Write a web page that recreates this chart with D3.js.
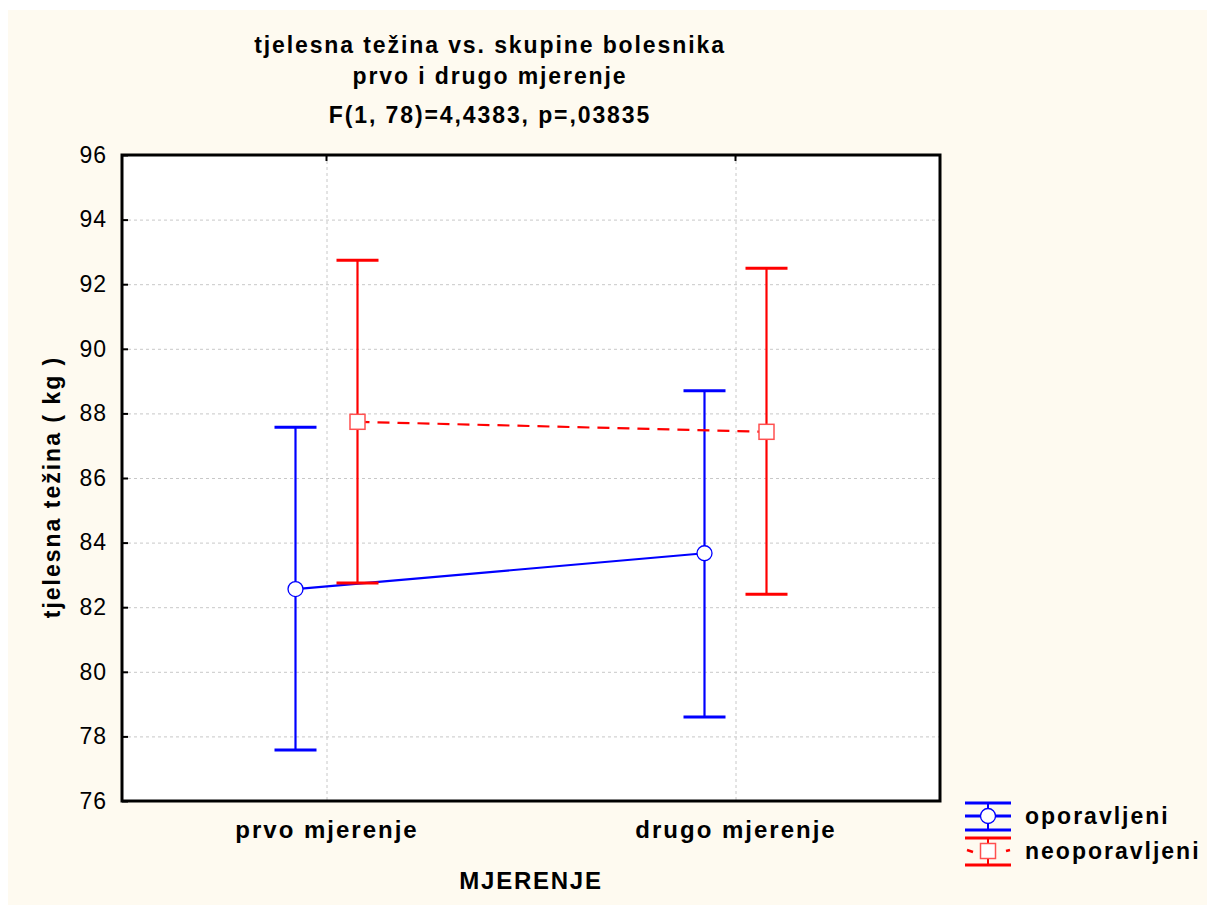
<!DOCTYPE html>
<html>
<head>
<meta charset="utf-8">
<script src="https://cdn.jsdelivr.net/npm/d3@7"></script>
<style>
  html, body { margin: 0; padding: 0; background: #ffffff; }
  svg { display: block; }
  text { font-family: "Liberation Sans", Arial, sans-serif; fill: #000; }
</style>
</head>
<body>
<svg id="chart" width="1207" height="905"></svg>
<script>
// ---- data ----
const categories = ["prvo mjerenje", "drugo mjerenje"];
const seriesNames = ["oporavljeni", "neoporavljeni"];
const oporavljeniMean = [82.56, 83.67];
const oporavljeniLow  = [77.58, 78.60];
const oporavljeniHigh = [87.57, 88.70];
const neoporavljeniMean = [87.74, 87.43];
const neoporavljeniLow  = [82.75, 82.40];
const neoporavljeniHigh = [92.74, 92.49];
const yTicks = [76, 78, 80, 82, 84, 86, 88, 90, 92, 94, 96];
const titleLines = ["tjelesna težina vs. skupine bolesnika", "prvo i drugo mjerenje", "F(1, 78)=4,4383, p=,03835"];
const xAxisTitle = "MJERENJE";
const yAxisTitle = "tjelesna težina ( kg )";

const series = [
  { name: seriesNames[0], mean: oporavljeniMean, low: oporavljeniLow, high: oporavljeniHigh, color: "#0000ff", markerStroke: "#0000ff", marker: "circle", dash: null },
  { name: seriesNames[1], mean: neoporavljeniMean, low: neoporavljeniLow, high: neoporavljeniHigh, color: "#ff0000", markerStroke: "#ff5050", marker: "square", dash: "12,8" }
];

const svg = d3.select("#chart");
// cream background panel
svg.append("rect").attr("x", 8).attr("y", 10).attr("width", 1199).attr("height", 895).attr("fill", "#fefaf0");

const L = 122, R = 940, T = 155, B = 801;
const x = d3.scalePoint().domain(categories).range([L, R]).padding(0.5);
const off = d3.scalePoint().domain(seriesNames).range([-31, 31]);
const y = d3.scaleLinear().domain([76, 96]).range([B, T]);

// plot area
svg.append("rect").attr("x", L).attr("y", T).attr("width", R - L).attr("height", B - T).attr("fill", "#ffffff");

// grid
const grid = svg.append("g").attr("stroke", "#c8c8c8").attr("stroke-width", 1).attr("stroke-dasharray", "3,3");
grid.selectAll("line.h").data(yTicks.filter(t => t > 76 && t < 96)).join("line")
  .attr("x1", L).attr("x2", R).attr("y1", d => y(d) + 0.5).attr("y2", d => y(d) + 0.5);
grid.selectAll("line.v").data(categories).join("line")
  .attr("y1", T).attr("y2", B).attr("x1", d => x(d) + 0.5).attr("x2", d => x(d) + 0.5);

// axes
const yAxis = d3.axisLeft(y).tickValues(yTicks).tickSize(-6).tickPadding(15).tickFormat(d3.format("d"));
const gy = svg.append("g").attr("transform", `translate(${L},0)`).call(yAxis);
gy.select(".domain").remove();
gy.selectAll(".tick line").attr("stroke", "#000").attr("stroke-width", 2);
gy.selectAll(".tick text").attr("font-size", 23).attr("letter-spacing", "1px")
  .attr("font-family", "Liberation Sans, Arial, sans-serif").attr("fill", "#000");

const xAxis = d3.axisBottom(x).tickSize(0);
const gx = svg.append("g").attr("transform", `translate(0,${B})`).call(xAxis);
gx.select(".domain").remove();
gx.selectAll(".tick text").attr("font-size", 24).attr("font-weight", "bold").attr("letter-spacing", "2px")
  .attr("y", 37).attr("dy", null)
  .attr("font-family", "Liberation Sans, Arial, sans-serif").attr("fill", "#000");
// top ticks at categories
svg.append("g").selectAll("line").data(categories).join("line")
  .attr("x1", d => x(d)).attr("x2", d => x(d)).attr("y1", T).attr("y2", T + 6)
  .attr("stroke", "#000").attr("stroke-width", 2);

// border
svg.append("rect").attr("x", L).attr("y", T).attr("width", R - L).attr("height", B - T)
  .attr("fill", "none").attr("stroke", "#000").attr("stroke-width", 3);

// series
const capW = 21;
series.forEach(s => {
  const g = svg.append("g");
  const px = (c) => x(c) + off(s.name);
  const line = d3.line().x((d, i) => px(categories[i])).y(d => y(d));
  g.append("path").attr("d", line(s.mean)).attr("fill", "none").attr("stroke", s.color)
    .attr("stroke-width", 2.2).attr("stroke-dasharray", s.dash);
  categories.forEach((c, i) => {
    const cx = px(c);
    g.append("line").attr("x1", cx).attr("x2", cx).attr("y1", y(s.low[i])).attr("y2", y(s.high[i]))
      .attr("stroke", s.color).attr("stroke-width", 2.2);
    [s.low[i], s.high[i]].forEach(v => {
      g.append("line").attr("x1", cx - capW).attr("x2", cx + capW).attr("y1", y(v)).attr("y2", y(v))
        .attr("stroke", s.color).attr("stroke-width", 3);
    });
  });
  categories.forEach((c, i) => {
    const cx = px(c), cy = y(s.mean[i]);
    if (s.marker === "circle") {
      g.append("circle").attr("cx", cx).attr("cy", cy).attr("r", 7.5).attr("fill", "#fff")
        .attr("stroke", s.markerStroke).attr("stroke-width", 1.3);
    } else {
      g.append("rect").attr("x", cx - 7.5).attr("y", cy - 7.5).attr("width", 15).attr("height", 15)
        .attr("fill", "#fff").attr("stroke", s.markerStroke).attr("stroke-width", 1.5);
    }
  });
});

// titles
const titleY = [53, 84, 123];
svg.append("g").selectAll("text").data(titleLines).join("text")
  .attr("x", 490).attr("y", (d, i) => titleY[i]).attr("text-anchor", "middle")
  .attr("font-size", 23).attr("font-weight", "bold").attr("letter-spacing", "1.9px").text(d => d);

svg.append("text").attr("x", (L + R) / 2).attr("y", 889).attr("text-anchor", "middle")
  .attr("font-size", 24).attr("font-weight", "bold").attr("letter-spacing", "1.75px").text(xAxisTitle);

svg.append("text").attr("transform", `translate(60,487) rotate(-90)`).attr("text-anchor", "middle")
  .attr("font-size", 23).attr("font-weight", "bold").attr("letter-spacing", "2px").text(yAxisTitle);

// legend
const lg = svg.append("g");
const lx1 = 965, lx2 = 1011, lmid = 988;
const legRows = [{ s: series[0], top: 803, mid: 816, bot: 830 }, { s: series[1], top: 838, mid: 851, bot: 865 }];
legRows.forEach(r => {
  const s = r.s;
  [r.top, r.bot].forEach(yy => lg.append("line").attr("x1", lx1).attr("x2", lx2).attr("y1", yy).attr("y2", yy)
    .attr("stroke", s.color).attr("stroke-width", 3));
  lg.append("line").attr("x1", lmid).attr("x2", lmid).attr("y1", r.top).attr("y2", r.bot).attr("stroke", s.color).attr("stroke-width", 2);
  if (s.dash) {
    lg.append("line").attr("x1", lx1 + 2).attr("x2", lx1 + 8).attr("y1", r.mid - 1).attr("y2", r.mid + 1).attr("stroke", s.color).attr("stroke-width", 2.5);
    lg.append("line").attr("x1", lx2 - 5).attr("x2", lx2 - 1).attr("y1", r.mid).attr("y2", r.mid - 1).attr("stroke", s.color).attr("stroke-width", 2.5);
  } else {
    lg.append("line").attr("x1", lx1).attr("x2", lx2).attr("y1", r.mid).attr("y2", r.mid).attr("stroke", s.color).attr("stroke-width", 3);
  }
  if (s.marker === "circle") {
    lg.append("circle").attr("cx", lmid).attr("cy", r.mid).attr("r", 7.5).attr("fill", "#fff").attr("stroke", s.markerStroke).attr("stroke-width", 1.3);
  } else {
    lg.append("rect").attr("x", lmid - 7.5).attr("y", r.mid - 7.5).attr("width", 15).attr("height", 15).attr("fill", "#fff").attr("stroke", s.markerStroke).attr("stroke-width", 1.5);
  }
  lg.append("text").attr("x", 1025).attr("y", r.mid + 8).attr("font-size", 23).attr("font-weight", "bold")
    .attr("letter-spacing", "2px").text(s.name);
});
</script>
</body>
</html>
